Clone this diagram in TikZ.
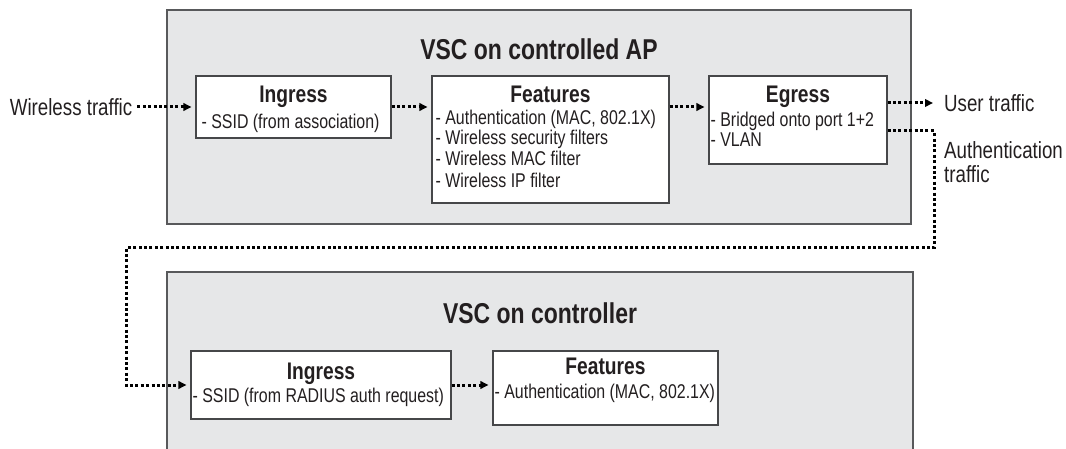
\documentclass[tikz,border=0pt]{standalone}
\usepackage{fontspec}
\setmainfont{Liberation Sans}[FakeStretch=0.8]
\usepackage{xcolor}
\usetikzlibrary{arrows.meta,positioning}
\definecolor{panelgray}{RGB}{230,231,232}
\definecolor{edgegray}{RGB}{88,89,91}
\definecolor{inkgray}{RGB}{35,31,32}

\begin{document}
\begin{tikzpicture}[
  x=1pt, y=-1pt,
  every node/.style={text=inkgray},
  panel/.style={rectangle, draw=edgegray, line width=1.5pt, fill=panelgray, inner sep=0pt},
  box/.style={rectangle, draw=edgegray!80!black, line width=1.1pt, fill=white, inner sep=0pt},
  paneltitle/.style={inner sep=0pt, font=\fontsize{28.7}{31}\selectfont\bfseries},
  boxtitle/.style={inner sep=0pt, font=\fontsize{24}{26}\selectfont\bfseries},
  boxbody/.style={inner sep=0pt, align=left, font=\fontsize{19.9}{20.5}\selectfont},
  outlabel/.style={inner sep=0pt, align=left, font=\fontsize{23.4}{24}\selectfont},
  arr/.style={line width=3pt, dash pattern=on 3pt off 2.4pt, -{Triangle[length=8pt,width=7.5pt]}}
]
  \useasboundingbox (0,0) rectangle (1066,449);
  \clip (0,0) rectangle (1066,449);

  \node[panel, minimum width=744pt, minimum height=214pt] (ap) at (539,117) {};
  \node[panel, minimum width=746pt, minimum height=198pt] (ctl) at (540,371) {};
  \node[paneltitle, below=29pt of ap.north] (aptitle) {VSC on controlled AP};
  \node[paneltitle, below=31pt of ctl.north] (ctltitle) {VSC on controller};

  \node[box, minimum width=195pt, minimum height=62pt] (ing1) at (293.5,107) {};
  \node[box, minimum width=237pt, minimum height=127pt] (feat1) at (550.5,139.5) {};
  \node[box, minimum width=178pt, minimum height=88pt] (egr) at (798,120) {};
  \node[box, minimum width=260pt, minimum height=68pt] (ing2) at (321,385) {};
  \node[box, minimum width=225pt, minimum height=74pt] (feat2) at (605.5,388) {};

  \node[boxtitle, below=10pt of ing1.north] (ing1t) {Ingress};
  \node[boxtitle, below=10pt of feat1.north] (feat1t) {Features};
  \node[boxtitle, below=10pt of egr.north] (egrt) {Egress};
  \node[boxtitle, below=12pt of ing2.north] (ing2t) {Ingress};
  \node[boxtitle, below=7pt of feat2.north] (feat2t) {Features};

  \node[boxbody, below right=38pt and 6pt of ing1.north west] (ing1b) {- SSID (from association)};
  \node[boxbody, below right=34pt and 4pt of feat1.north west] (feat1b) {- Authentication (MAC, 802.1X)\\ - Wireless security filters\\ - Wireless MAC filter\\[2pt] - Wireless IP filter};
  \node[boxbody, below right=36pt and 2pt of egr.north west] (egrb) {- Bridged onto port 1+2\\ - VLAN};
  \node[boxbody, below right=37pt and 2pt of ing2.north west] (ing2b) {- SSID (from RADIUS auth request)};
  \node[boxbody, below right=33pt and 2pt of feat2.north west] (feat2b) {- Authentication (MAC, 802.1X)};

  \node[outlabel, left=63pt of ing1] (wt) {Wireless traffic};
  \node[outlabel, anchor=west] (ut) at (944,103) {User traffic};
  \node[outlabel, anchor=north west] (authlbl) at (944,141) {Authentication\\traffic};

  \coordinate (authout) at (934,131);
  \coordinate (loopR) at (934,248);
  \coordinate (loopL) at (126,248);

  \draw[arr, shorten <=5pt, shorten >=4pt] (wt.east) -- (wt.east -| ing1.west);
  \draw[arr, shorten >=4pt] (ing1.east) -- (ing1.east -| feat1.west);
  \draw[arr, shorten >=4pt] (feat1.east |- ing1.east) -- (egr.west |- ing1.east);
  \draw[arr, shorten >=11pt] (egr.east |- ut.west) -- (ut.west);
  \draw[arr, shorten >=4pt] (egr.east |- authout) -- (authout) -- (loopR) -- (loopL) |- (ing2.west);
  \draw[arr, shorten >=4pt] (ing2.east) -- (ing2.east -| feat2.west);
\end{tikzpicture}
\end{document}
